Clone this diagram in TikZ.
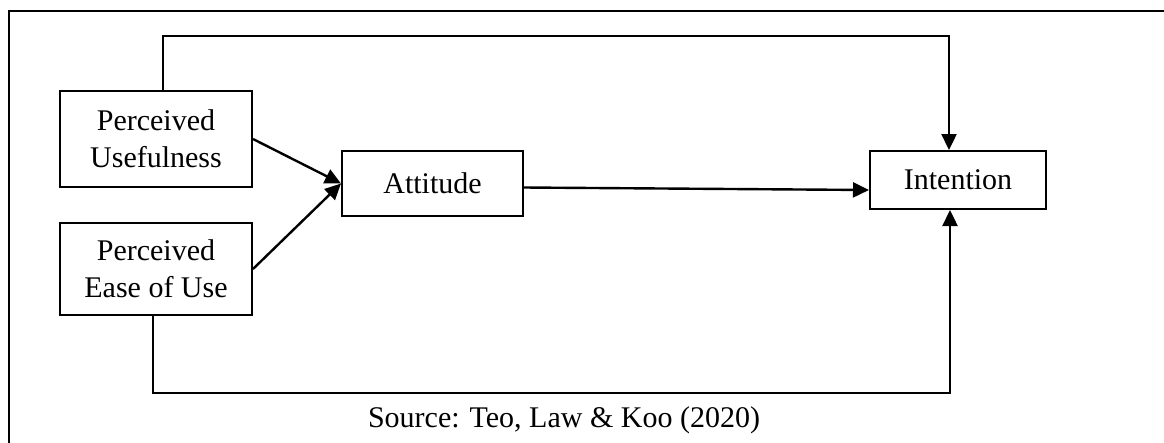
\documentclass[tikz,border=0pt]{standalone}
\usepackage{fontspec}
\setmainfont{Liberation Serif}
\usetikzlibrary{arrows.meta}
\begin{document}
\begin{tikzpicture}[x=1pt, y=-1pt, line width=2pt, >={Triangle[length=16pt,width=15pt]},
  box node/.style={rectangle,draw,inner sep=0pt,align=center,font=\fontsize{30}{37}\selectfont},
  link/.style={->,line width=2.4pt}]
\useasboundingbox (0,0) rectangle (1164,442);
\draw[line width=2pt] (1170,11) -- (9,11) -- (9,450);
\begin{scope}[every node/.style={box node}]
\node [minimum width=192pt, minimum height=96pt](pu) at (156,139) {Perceived\\Usefulness};
\node [minimum width=192pt, minimum height=92pt](peu) at (156,269) {Perceived\\Ease of Use};
\node [minimum width=181pt, minimum height=65pt](att) at (432.5,183.5) {Attitude};
\node [minimum width=176pt, minimum height=58pt](int) at (958,180) {Intention};
\end{scope}
\coordinate (toprail) at (560,36);
\coordinate (botrail) at (560,393);
\path [link]
	(pu.east) edge (att.west)
    (peu.east) edge (att.west)
    ([yshift=-4pt]att.east) edge ([yshift=-10pt]int.west)
         ;
\draw [link] ([xshift=7pt]pu.north) |- (toprail) -| ([xshift=-9pt]int.north);
\draw [link] ([xshift=-3pt]peu.south) |- (botrail) -| ([xshift=-8pt]int.south);
\node [font=\fontsize{30}{37}\selectfont, anchor=base] (src) at (564,427) {Source: Teo, Law \& Koo (2020)};
\end{tikzpicture}
\end{document}
